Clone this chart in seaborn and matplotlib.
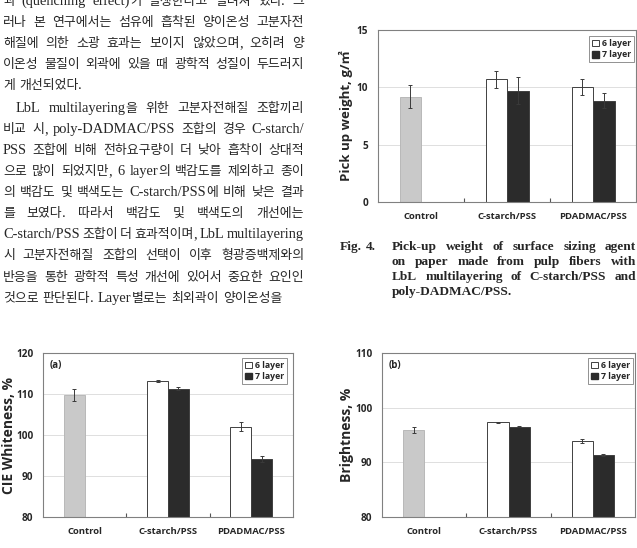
import re

import matplotlib
matplotlib.use("Agg")
import matplotlib.pyplot as plt
from matplotlib.patches import Patch
from matplotlib.ticker import FixedLocator
import numpy as np
import pandas as pd
import seaborn as sns

groups = ["Control", "C-starch/PSS", "PDADMAC/PSS"]
layers = ["6 layer", "7 layer"]

# Fig. 4: pick-up weight, g/m2 (control has only one bar)
pickup_6 = [9.2, 10.7, 10.05]
pickup_6_sd = [1.0, 0.72, 0.72]
pickup_7 = [None, 9.7, 8.85]
pickup_7_sd = [None, 1.17, 0.62]

# (a) CIE whiteness, %
whiteness_6 = [109.8, 113.2, 102.0]
whiteness_6_sd = [1.4, 0.25, 1.1]
whiteness_7 = [None, 111.3, 94.1]
whiteness_7_sd = [None, 0.35, 0.7]

# (b) brightness, %
brightness_6 = [96.0, 97.3, 93.9]
brightness_6_sd = [0.55, 0.15, 0.45]
brightness_7 = [None, 96.5, 91.3]
brightness_7_sd = [None, 0.12, 0.15]

# body text of the page (left column), one entry per printed line
para1 = [
    "과 (quenching effect)가 발생한다고 알려져 있다. 그",
    "러나 본 연구에서는 섬유에 흡착된 양이온성 고분자전",
    "해질에 의한 소광 효과는 보이지 않았으며, 오히려 양",
    "이온성 물질이 외곽에 있을 때 광학적 성질이 두드러지",
    "게 개선되었다.",
]
para2 = [
    "LbL multilayering을 위한 고분자전해질 조합끼리",
    "비교 시, poly-DADMAC/PSS 조합의 경우 C-starch/",
    "PSS 조합에 비해 전하요구량이 더 낮아 흡착이 상대적",
    "으로 많이 되었지만, 6 layer의 백감도를 제외하고 종이",
    "의 백감도 및 백색도는 C-starch/PSS에 비해 낮은 결과",
    "를 보였다. 따라서 백감도 및 백색도의 개선에는",
    "C-starch/PSS 조합이 더 효과적이며, LbL multilayering",
    "시 고분자전해질 조합의 선택이 이후 형광증백제와의",
    "반응을 통한 광학적 특성 개선에 있어서 중요한 요인인",
    "것으로 판단된다. Layer별로는 최외곽이 양이온성을",
]
caption_tag = "Fig. 4."
caption = [
    "Pick-up weight of surface sizing agent",
    "on paper made from pulp fibers with",
    "LbL multilayering of C-starch/PSS and",
    "poly-DADMAC/PSS.",
]

WHITE, DARK, GRAY = "#ffffff", "#2b2b2b", "#c9c9c9"
W, H = 637, 548

sns.set_style("white")
plt.rcParams["font.family"] = ["Open Sans", "Noto Sans CJK KR", "DejaVu Sans"]

fig = plt.figure(figsize=(W / 100, H / 100), dpi=100)
fig.patch.set_facecolor("white")


def draw_panel(ax, v6, s6, v7, s7, ylim, step, ylabel, label_x, legend_xy,
               tag=None, ylabel_size=10):
    rows = []
    for g, a, sa, b, sb in zip(groups, v6, s6, v7, s7):
        rows.append((g, layers[0], a, sa))
        if b is not None:
            rows.append((g, layers[1], b, sb))
    df = pd.DataFrame(rows, columns=["group", "layer", "value", "sd"])

    sns.barplot(data=df, x="group", y="value", hue="layer", order=groups,
                hue_order=layers, palette=[WHITE, DARK], width=0.5,
                errorbar=None, edgecolor="#404040", linewidth=0.7,
                legend=False, ax=ax)

    bar_conts = list(ax.containers)
    for cont, lay in zip(bar_conts, layers):
        sub = df[df["layer"] == lay].set_index("group")
        for bar in cont:
            cx = bar.get_x() + bar.get_width() / 2
            g = groups[int(round(cx))]
            if g == "Control":
                bar.set_facecolor(GRAY)
                bar.set_edgecolor("#b8b8b8")
            ax.errorbar(cx, sub.loc[g, "value"], yerr=sub.loc[g, "sd"],
                        color="#3a3a3a", lw=0.7, capsize=1.5, capthick=0.7)

    ax.set_xlim(-0.5, 2.5)
    ax.set_ylim(*ylim)
    ax.set_yticks(np.arange(ylim[0], ylim[1] + 0.01, step))
    ax.set_xlabel("")
    ax.set_ylabel(ylabel, fontsize=ylabel_size, fontweight="bold")
    ax.yaxis.set_label_coords(label_x, 0.5)

    ax.tick_params(axis="x", which="major", length=0, pad=7, labelsize=6.8)
    ax.tick_params(axis="y", length=0, pad=7, labelsize=7.2)
    ax.xaxis.set_minor_locator(FixedLocator([0.5, 1.5]))
    ax.tick_params(axis="x", which="minor", bottom=True, direction="in",
                   length=3, width=0.8, color="#555555")
    for lab in ax.get_xticklabels() + ax.get_yticklabels():
        lab.set_fontweight("bold")

    ax.grid(axis="y", color="#d9d9d9", lw=0.6)
    ax.set_axisbelow(True)
    for sp in ax.spines.values():
        sp.set_visible(True)
        sp.set_color("#808080")
        sp.set_linewidth(0.8)

    handles = [Patch(facecolor=WHITE, edgecolor="#404040", lw=0.7),
               Patch(facecolor=DARK, edgecolor=DARK)]
    leg = ax.legend(handles, layers, loc="upper right", bbox_to_anchor=legend_xy,
                    borderaxespad=0, prop={"size": 6.3, "weight": "bold"},
                    handlelength=0.8, handleheight=0.8, handletextpad=0.3,
                    labelspacing=0.25, borderpad=0.35, frameon=True,
                    fancybox=False, framealpha=1)
    leg.get_frame().set_edgecolor("#808080")
    leg.get_frame().set_linewidth(0.6)

    if tag:
        ax.text(0.028, 0.925, tag, transform=ax.transAxes, fontsize=7,
                fontweight="bold", va="center")


ax1 = fig.add_axes([378 / W, 1 - 202 / H, 258 / W, 172 / H])
axa = fig.add_axes([43 / W, 1 - 517 / H, 250 / W, 164 / H])
axb = fig.add_axes([382 / W, 1 - 517 / H, 253 / W, 164 / H])

draw_panel(ax1, pickup_6, pickup_6_sd, pickup_7, pickup_7_sd, (0, 15), 5,
           "Pick up weight, g/㎡", (353 - 378) / 258, (0.992, 0.965),
           ylabel_size=9.5)
draw_panel(axa, whiteness_6, whiteness_6_sd, whiteness_7, whiteness_7_sd,
           (80, 120), 10, "CIE Whiteness, %", (16 - 43) / 250, (0.976, 0.97),
           tag="(a)", ylabel_size=10)
draw_panel(axb, brightness_6, brightness_6_sd, brightness_7, brightness_7_sd,
           (80, 110), 10, "Brightness, %", (354 - 382) / 253, (0.992, 0.97),
           tag="(b)", ylabel_size=10)

# ---- page text, justified word by word; Hangul and Latin runs get own sizes ----
renderer = fig.canvas.get_renderer()
HANGUL = r"[\uac00-\ud7a3\u3130-\u318f]+"
KO_FONT, LAT_FONT = "Noto Sans CJK KR", "Liberation Serif"


def put_line(text, y_center, x0, x1, ko_size, lat_size, weight="normal",
             justify=True):
    base = y_center + 0.37 * ko_size * 100 / 72
    words = []
    for w in text.split(" "):
        pieces = re.findall(HANGUL + "|" + HANGUL.replace("[", "[^", 1), w)
        arts = []
        for p in pieces:
            ko = re.fullmatch(HANGUL, p) is not None
            arts.append(fig.text(0, 1 - base / H, p,
                                 fontsize=ko_size if ko else lat_size,
                                 family=KO_FONT if ko else LAT_FONT,
                                 fontweight=weight, va="baseline", ha="left"))
        widths = [a.get_window_extent(renderer).width for a in arts]
        words.append((arts, widths))
    total = sum(sum(ws) for _, ws in words)
    if justify and len(words) > 1:
        gap = (x1 - x0 - total) / (len(words) - 1)
    else:
        gap = 0.28 * lat_size * 100 / 72
    x = x0
    for arts, widths in words:
        for a, wd in zip(arts, widths):
            a.set_x(x / W)
            x += wd
        x += gap


KO_SIZE, LAT_SIZE = 9.3, 10.4
for i, line in enumerate(para1):
    put_line(line, 0 + 21 * i, 3, 304, KO_SIZE, LAT_SIZE,
             justify=i < len(para1) - 1)
for i, line in enumerate(para2):
    x0 = 16 if i == 0 else 3
    put_line(line, 107 + 21.1 * i, x0, 304, KO_SIZE, LAT_SIZE,
             justify=i < len(para2) - 1)

CAP_SIZE = 9.6
put_line(caption_tag, 245, 340, 380, CAP_SIZE, CAP_SIZE, weight="bold",
         justify=False)
for i, line in enumerate(caption):
    put_line(line, 245 + 15 * i, 392, 636, CAP_SIZE, CAP_SIZE, weight="bold",
             justify=i < len(caption) - 1)

fig.savefig("out.png", dpi=100, facecolor="white")
